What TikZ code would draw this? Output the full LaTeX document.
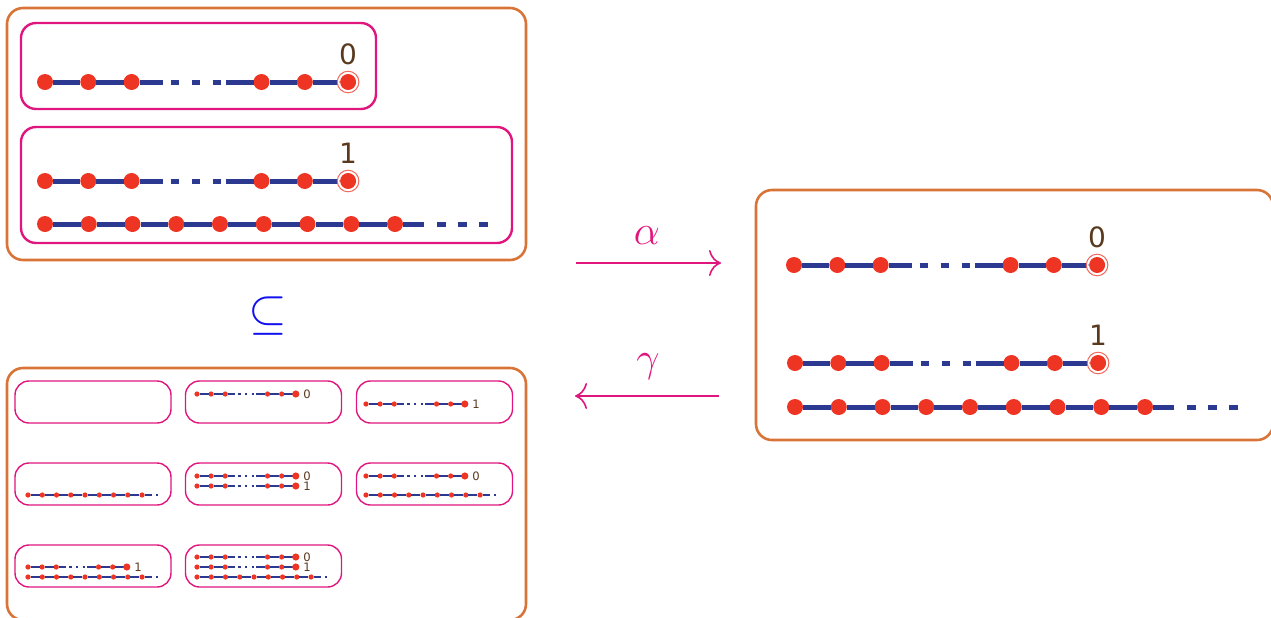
\documentclass[tikz,border=0pt]{standalone}
\usepackage{fontspec}
\usepackage{tikz}
\usetikzlibrary{arrows.meta}
\newfontfamily\digitfont{DejaVu Sans}

\definecolor{boxorange}{HTML}{D97438}
\definecolor{boxpink}{HTML}{E0157E}
\definecolor{dotred}{HTML}{EE3524}
\definecolor{chainblue}{HTML}{2B3990}
\definecolor{labelbrown}{HTML}{5A3A1E}
\definecolor{subblue}{HTML}{1010F0}

\tikzstyle{outerbox} = [draw=boxorange, line width=1.3pt, rounded corners=8pt, minimum width=259.5pt, minimum height=126pt, inner sep=0]
\tikzstyle{innerbox} = [draw=boxpink, line width=1.2pt, rounded corners=7.5pt, inner sep=0]
\tikzstyle{minibox} = [draw=boxpink, line width=0.7pt, rounded corners=7pt, minimum width=78pt, minimum height=21pt, inner sep=0]
\tikzstyle{dot} = [circle, fill=dotred, inner sep=0, outer sep=0]
\tikzstyle{link} = [draw=chainblue]
\tikzstyle{ring} = [draw=dotred!75, line width=0.5pt]
\tikzstyle{lbl} = [text=labelbrown, inner sep=0]
\tikzstyle{toplbl} = [lbl, yshift=13.8pt, font=\digitfont\fontsize{14}{16}\selectfont]
\tikzstyle{sidelbl} = [lbl, anchor=west, xshift=3.6pt, font=\digitfont\fontsize{5.8}{6}\selectfont]
\tikzstyle{maplbl} = [text=boxpink, inner sep=0, font=\fontsize{20}{24}\selectfont]
\tikzstyle{map} = [draw=boxpink, line width=0.8pt, -{To[length=6pt,width=13pt]}]

% chain with a marked last vertex
% #1 name, #2 x, #3 y, #4 scale, #5 label, #6 label style
\newcommand{\finchain}[6]{%
  \pgfmathsetlengthmacro{\dotsize}{16*#4*0.5pt}%
  \pgfmathsetlengthmacro{\linkwd}{(0.4+2.1*#4)*1pt}%
  \pgfmathsetlengthmacro{\dA}{23*#4*0.5pt}%
  \pgfmathsetlengthmacro{\dB}{8*#4*0.5pt}%
  \pgfmathsetlengthmacro{\dC}{13*#4*0.5pt}%
  \pgfmathsetlengthmacro{\dD}{5*#4*0.5pt}%
  \edef\gappat{on \dA\space off \dB\space on \dB\space off \dC\space on \dB\space off \dC\space on \dB\space off \dD\space on 200pt off 1pt}%
  \foreach \k/\i in {a/0,b/1,c/2,d/5,e/6,f/7}
    \node (#1\k) [dot, minimum size=\dotsize] at ({#2+\i*43.3*#4},#3) {};
  \draw [link, line width=\linkwd] (#1a) -- (#1b);
  \draw [link, line width=\linkwd] (#1b) -- (#1c);
  \draw [link, line width=\linkwd, dash pattern/.expanded=\gappat] (#1c) -- (#1d);
  \draw [link, line width=\linkwd] (#1d) -- (#1e);
  \draw [link, line width=\linkwd] (#1e) -- (#1f);
  \ifdim #4pt<0.5pt
    \fill [dotred] (#1f.center) circle [radius=11*#4];
  \else
    \draw [white, line width=1pt] (#1f.center) circle [radius=9.6];
    \draw [ring] (#1f.center) circle [radius=10.8];
  \fi
  \node (#1lbl) [#6] at (#1f.center) {#5};
}

% infinite chain
% #1 name, #2 x, #3 y, #4 scale, #5 tail length
\newcommand{\longchain}[5]{%
  \pgfmathsetlengthmacro{\dotsize}{16*#4*0.5pt}%
  \pgfmathsetlengthmacro{\linkwd}{(0.4+2.1*#4)*1pt}%
  \pgfmathsetlengthmacro{\dE}{21*#4*0.5pt}%
  \pgfmathsetlengthmacro{\dF}{13*#4*0.5pt}%
  \pgfmathsetlengthmacro{\dG}{9*#4*0.5pt}%
  \pgfmathsetlengthmacro{\dH}{12*#4*0.5pt}%
  \edef\tailpat{on \dE\space off \dF\space on \dG\space off \dH\space on \dG\space off \dH\space on \dG\space off 200pt}%
  \foreach \i in {0,...,8}
    \node (#1\i) [dot, minimum size=\dotsize] at ({#2+\i*43.75*#4},#3) {};
  \coordinate (#1end) at ({#2+(8*43.75+#5)*#4},#3);
  \foreach \i [count=\j] in {0,...,7}
    \draw [link, line width=\linkwd] (#1\i) -- (#1\j);
  \draw [link, line width=\linkwd, dash pattern/.expanded=\tailpat] (#18) -- (#1end);
}

\begin{document}
\begin{tikzpicture}[x=0.5pt, y=-0.5pt]
\useasboundingbox (0,0) rectangle (1271,617);

% orbits of the two marked chains
\node (topbox) [outerbox] at (266.5,134) {};
\node (zerobox) [innerbox, minimum width=177.5pt, minimum height=43pt] at (198.5,66) {};
\node (onebox) [innerbox, minimum width=245.5pt, minimum height=58pt] at (266.5,185) {};
\finchain{p}{45}{82}{1}{0}{toplbl}
\finchain{q}{45}{181}{1}{1}{toplbl}
\longchain{r}{45}{224}{1}{93}

\node (subset) [text=subblue, inner sep=0, font=\fontsize{28}{30}\selectfont] at (268,316) {$\subseteq$};

% abstraction and concretisation
\coordinate (alphaL) at (576,263);
\coordinate (alphaR) at (721,263);
\coordinate (gammaR) at (719,396);
\coordinate (gammaL) at (575,396);
\draw [map] (alphaL) -- (alphaR);
\draw [map] (gammaR) -- (gammaL);
\node (alpha) [maplbl] at (647,236) {$\alpha$};
\node (gamma) [maplbl] at (648,367) {$\gamma$};

% abstract value
\node (rightbox) [outerbox, minimum width=258.5pt, minimum height=125pt] at (1014.5,315) {};
\finchain{u}{794}{265}{1}{0}{toplbl}
\finchain{v}{795}{363}{1}{1}{toplbl}
\longchain{w}{795}{407}{1}{93}

% all subsets
\node (powerbox) [outerbox] at (266.5,494) {};
\foreach \n/\x/\y in {1/93/402, 2/263.5/402, 3/434.5/402, 4/93/484, 5/263.5/484, 6/434.5/484, 7/93/566, 8/263.5/566}
  \node (m\n) [minibox] at (\x,\y) {};
\finchain{a}{197}{394}{0.326}{0}{sidelbl}
\finchain{b}{366}{404}{0.326}{1}{sidelbl}
\longchain{c}{28}{495}{0.326}{50}
\finchain{d}{197}{476}{0.326}{0}{sidelbl}
\finchain{e}{197}{486}{0.326}{1}{sidelbl}
\finchain{f}{366}{476}{0.326}{0}{sidelbl}
\longchain{g}{366}{495}{0.326}{50}
\finchain{h}{28}{567}{0.326}{1}{sidelbl}
\longchain{i}{28}{577}{0.326}{50}
\finchain{j}{197}{557}{0.326}{0}{sidelbl}
\finchain{k}{197}{567}{0.326}{1}{sidelbl}
\longchain{l}{197}{577}{0.326}{50}

\end{tikzpicture}
\end{document}
